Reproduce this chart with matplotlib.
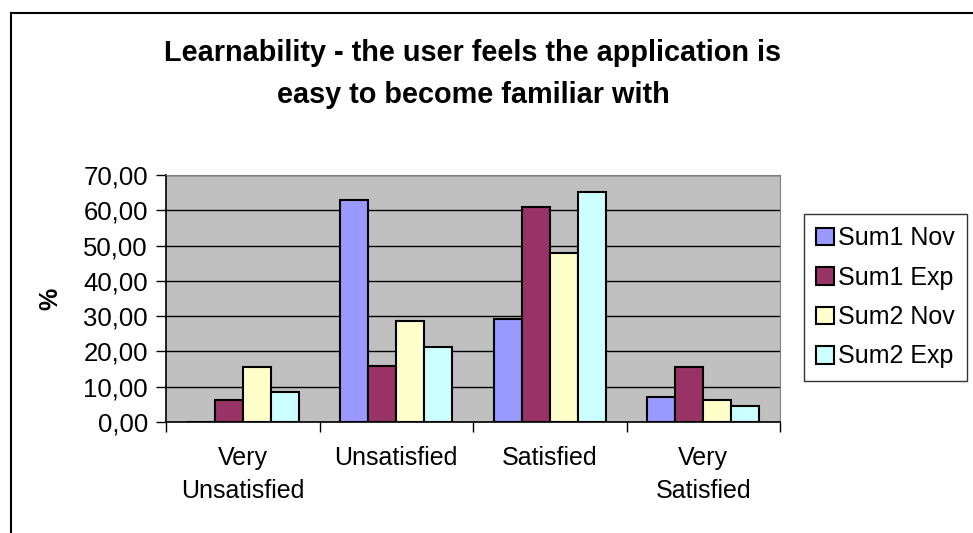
import numpy as np
import matplotlib.pyplot as plt
from matplotlib.lines import Line2D

plt.rcParams['font.family'] = ['Liberation Sans', 'DejaVu Sans']

categories = ["Very\nUnsatisfied", "Unsatisfied", "Satisfied", "Very\nSatisfied"]
series_names = ["Sum1 Nov", "Sum1 Exp", "Sum2 Nov", "Sum2 Exp"]
sum1_nov = [0.0, 62.8, 29.3, 7.2]
sum1_exp = [6.2, 15.8, 61.0, 15.7]
sum2_nov = [15.7, 28.7, 48.0, 6.1]
sum2_exp = [8.4, 21.3, 65.1, 4.4]
colors = ["#9999FF", "#993366", "#FFFFCC", "#CCFFFF"]
yticks = [0, 10, 20, 30, 40, 50, 60, 70]

fig = plt.figure(figsize=(9.73, 5.33), dpi=100)
ax = fig.add_axes([166 / 973, 1 - 422 / 533, 614 / 973, 247 / 533])
ax.set_facecolor("#C0C0C0")

x = np.arange(len(categories)) + 0.5
w = 0.182
for i, (name, vals) in enumerate(zip(series_names, [sum1_nov, sum1_exp, sum2_nov, sum2_exp])):
    ax.bar(x + (i - 1.5) * w, vals, w, color=colors[i], edgecolor="black",
           linewidth=1.5, label=name, zorder=3)

ax.set_xlim(0, 4)
ax.set_ylim(0, 70)
ax.set_yticks(yticks)
ax.set_yticklabels(["%d,00" % v for v in yticks], fontsize=18.5)
ax.yaxis.grid(True, color="black", linewidth=1, zorder=1)
ax.set_axisbelow(True)

ax.set_xticks(x)
ax.set_xticklabels(categories, fontsize=18, linespacing=1.5)
ax.set_xticks(np.arange(5), minor=True)
ax.tick_params(axis="x", which="major", length=0, pad=17)
ax.tick_params(axis="x", which="minor", length=7, width=1, direction="out")
ax.tick_params(axis="y", length=7, width=1, direction="out", pad=6)

for s in ["top", "right"]:
    ax.spines[s].set_color("#808080")
for s in ["left", "bottom"]:
    ax.spines[s].set_color("black")
    ax.spines[s].set_linewidth(1.2)

ax.set_ylabel("%", fontsize=18, fontweight="bold", labelpad=15)

fig.text(473 / 973, 1 - 74 / 533, "Learnability - the user feels the application is\neasy to become familiar with",
         ha="center", va="center", fontsize=20.8, fontweight="bold", linespacing=1.6)

leg = fig.legend(loc="upper left", bbox_to_anchor=(804 / 973, 1 - 214 / 533), fontsize=18,
                 frameon=True, fancybox=False, edgecolor="black", handlelength=0.7,
                 handleheight=0.7, handletextpad=0.2, labelspacing=0.62, borderpad=0.48,
                 borderaxespad=0)
leg.get_frame().set_linewidth(1)

# outer chart border (top and left edges)
fig.add_artist(Line2D([11 / 973, 11 / 973], [0, 1 - 13 / 533], transform=fig.transFigure,
                      color="black", linewidth=1.5))
fig.add_artist(Line2D([11 / 973, 1], [1 - 13 / 533, 1 - 13 / 533], transform=fig.transFigure,
                      color="black", linewidth=1.5))

fig.savefig("out.png", dpi=100)
